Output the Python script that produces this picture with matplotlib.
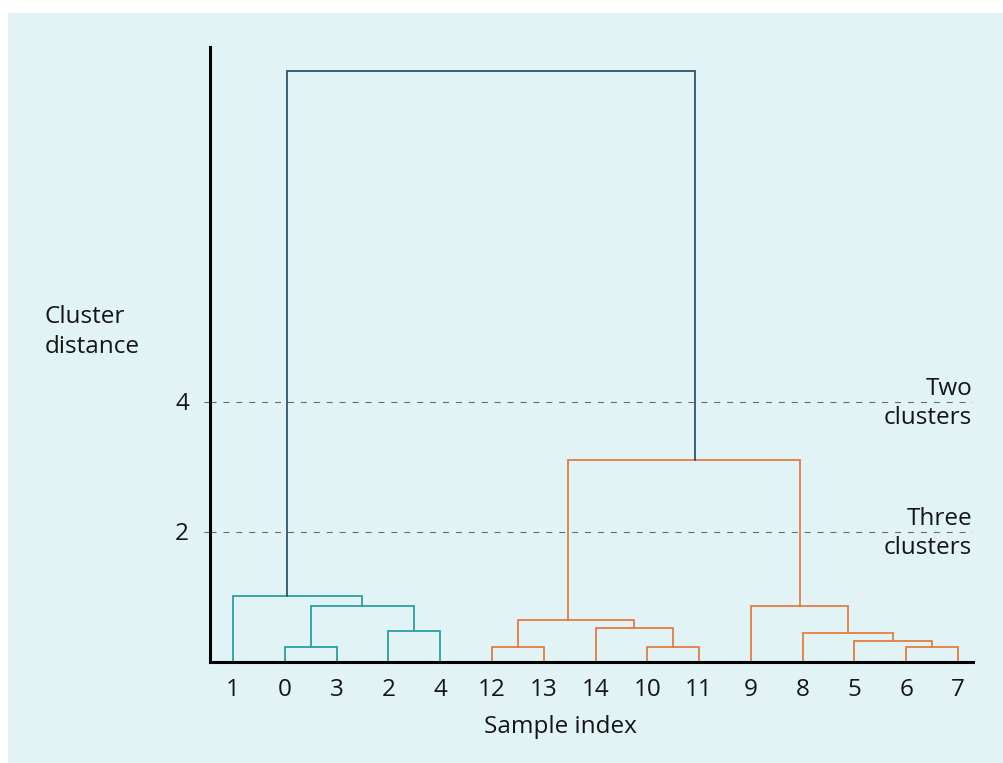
import matplotlib
matplotlib.use("Agg")
import matplotlib.pyplot as plt
from matplotlib.patches import Rectangle

plt.rcParams['font.family'] = ['Open Sans', 'DejaVu Sans']
plt.rcParams['lines.scale_dashes'] = False

# ---- data ----
leaf_labels = ['1', '0', '3', '2', '4', '12', '13', '14', '10', '11', '9', '8', '5', '6', '7']
# dendrogram links (scipy-like icoord/dcoord in leaf units / distance)
link_left_x = [1, 3, 1.5, 0, 5, 8, 7, 5.5, 13, 12, 11, 10, 6.47, 1.04]
link_right_x = [2, 4, 3.5, 2.5, 6, 9, 8.5, 7.75, 14, 13.5, 12.75, 11.875, 10.94, 8.92]
link_left_y = [0, 0, 0.23, 0, 0, 0, 0, 0.23, 0, 0, 0, 0, 0.64, 1.01]
link_right_y = [0, 0, 0.47, 0.86, 0, 0, 0.23, 0.52, 0, 0.23, 0.31, 0.44, 0.86, 3.10]
link_height = [0.23, 0.47, 0.86, 1.01, 0.23, 0.23, 0.52, 0.64, 0.23, 0.31, 0.44, 0.86, 3.10, 9.08]
link_group = ['a', 'a', 'a', 'a', 'b', 'b', 'b', 'b', 'b', 'b', 'b', 'b', 'b', 'top']
threshold_values = [4, 2]
threshold_top = ['Two', 'Three']
threshold_bottom = ['clusters', 'clusters']
y_ticks = [2, 4]

group_colors = {'a': '#2a9fa0', 'b': '#e27d43', 'top': '#2c5665'}
TXT = '#151515'
FS = 17.5

W, H = 1004, 763
fig = plt.figure(figsize=(W / 100, H / 100), dpi=100)
fig.patch.set_facecolor('white')
fig.patches.append(Rectangle((8 / W, 0), 1 - 8 / W, 1 - 12 / H - 1 / H,
                             transform=fig.transFigure, facecolor='#e2f3f6',
                             edgecolor='none', zorder=-10))

ax = fig.add_axes([210 / W, 101.5 / H, 763 / W, 614.5 / H])
ax.set_facecolor('none')

for lx, rx, ly, ry, h, g in zip(link_left_x, link_right_x, link_left_y,
                                link_right_y, link_height, link_group):
    ax.plot([lx, lx, rx, rx], [ly, h, h, ry], color=group_colors[g],
            lw=1.3, solid_joinstyle='miter', zorder=3)

ax.set_xlim(-0.444, 14.288)
ax.set_ylim(0, 614.5 / 65)

for t, top, bot in zip(threshold_values, threshold_top, threshold_bottom):
    ax.axhline(t, color='#6a6a6a', lw=0.8, dashes=(4.3, 5.0), zorder=1)
    ax.annotate(top, xy=(1, t), xycoords=('axes fraction', 'data'),
                xytext=(-0.5, 5), textcoords='offset points',
                ha='right', va='baseline', fontsize=FS, color=TXT)
    ax.annotate(bot, xy=(1, t), xycoords=('axes fraction', 'data'),
                xytext=(-0.5, -16), textcoords='offset points',
                ha='right', va='baseline', fontsize=FS, color=TXT)

ax.set_xticks(range(len(leaf_labels)))
ax.set_xticklabels(leaf_labels)
ax.set_yticks(y_ticks)
ax.set_yticklabels([str(v) for v in y_ticks])
ax.tick_params(axis='x', length=0, pad=12, labelsize=FS, labelcolor=TXT)
ax.tick_params(axis='y', length=4, width=0.8, color='#6a6a6a', pad=11,
               labelsize=FS, labelcolor=TXT)

for s in ['top', 'right']:
    ax.spines[s].set_visible(False)
for s in ['left', 'bottom']:
    ax.spines[s].set_linewidth(2.2)
    ax.spines[s].set_color('black')
    ax.spines[s].set_zorder(4)

fig.text(45 / W, 1 - 323 / H, 'Cluster', ha='left', va='baseline',
         fontsize=FS, color=TXT)
fig.text(45 / W, 1 - 353 / H, 'distance', ha='left', va='baseline',
         fontsize=FS, color=TXT)
fig.text(560 / W, 1 - 733 / H, 'Sample index', ha='center', va='baseline',
         fontsize=FS, color=TXT)

fig.savefig('out.png', dpi=100)
